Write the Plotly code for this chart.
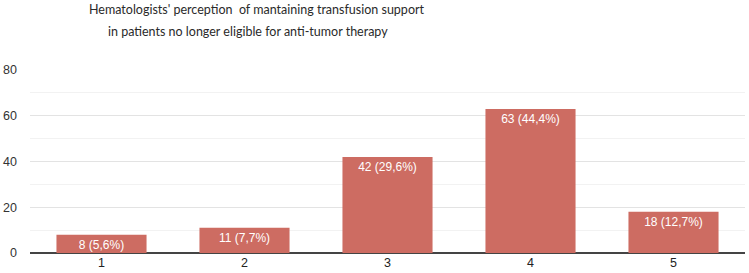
import plotly.graph_objects as go

categories = ["1", "2", "3", "4", "5"]
counts = [8, 11, 42, 63, 18]
labels = ["8 (5,6%)", "11 (7,7%)", "42 (29,6%)", "63 (44,4%)", "18 (12,7%)"]
y_ticks = [0, 20, 40, 60, 80]
title_lines = ["Hematologists' perception  of mantaining transfusion support",
               "in patients no longer eligible for anti-tumor therapy"]

fig = go.Figure()
fig.add_trace(go.Bar(
    x=categories, y=counts, text=labels,
    textposition="inside", insidetextanchor="end", constraintext="none",
    textfont=dict(color="white", size=12, family="Liberation Sans, Arial"),
    marker=dict(color="#cd6c62", line=dict(width=0)),
    width=0.63, hoverinfo="skip",
))

title_pos = [(0.3175, 1.33), (0.305, 1.21)]
annotations = [
    dict(text=t, xref="paper", yref="paper", x=px, y=py,
         xanchor="center", yanchor="middle", showarrow=False,
         font=dict(family="Lato", size=12.5, color="#2a2a2a"))
    for t, (px, py) in zip(title_lines, title_pos)
]

fig.update_layout(
    width=749, height=273,
    margin=dict(l=30, r=4, t=70, b=20, autoexpand=False),
    plot_bgcolor="white", paper_bgcolor="white",
    showlegend=False,
    font=dict(family="Liberation Sans, Arial", color="#333"),
    annotations=annotations,
)
fig.update_xaxes(
    showgrid=False, showline=False, ticks="", tickfont=dict(size=12.5, color="#222"),
    automargin=False,
)
fig.update_yaxes(
    range=[0, 80], tickvals=y_ticks, tickfont=dict(size=12.5, color="#333"),
    showgrid=True, gridcolor="#e3e3e3", gridwidth=1,
    minor=dict(dtick=10, showgrid=True, gridcolor="#f2f2f2"),
    zeroline=True, zerolinecolor="#444", zerolinewidth=1.5,
    ticklabelstandoff=12, automargin=False,
)
fig.write_html("out.html", config={"displayModeBar": False},
               post_script="document.body.style.margin='0';document.body.style.overflow='hidden';")
